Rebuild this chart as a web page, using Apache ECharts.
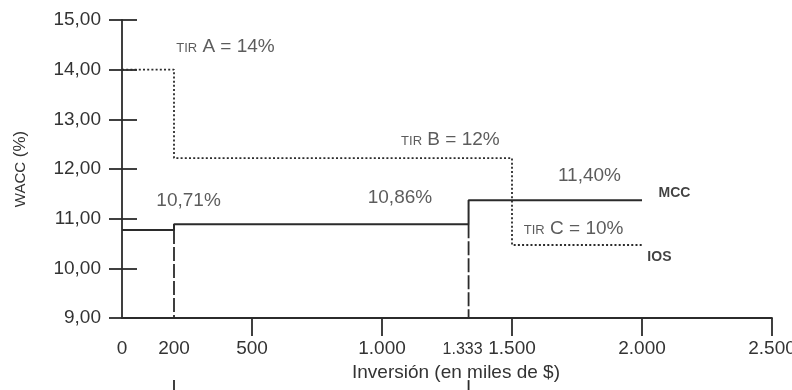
<!DOCTYPE html>
<html>
<head>
<meta charset="utf-8">
<script src="https://cdn.jsdelivr.net/npm/echarts@6/dist/echarts.min.js"></script>
<style>html,body{margin:0;padding:0;background:#fff}#c{width:792px;height:390px}</style>
</head>
<body>
<div id="c"></div>
<script>
// ---- data ----
const xLabelValues = [0, 200, 500, 1000, 1333, 1500, 2000, 2500];
const xTickValues = [500, 1000, 1500, 2000, 2500];
const mccX = [0, 200, 200, 1333, 1333, 2000];
const mccY = [10.77, 10.77, 10.89, 10.89, 11.37, 11.37];
const iosX = [0, 200, 200, 1500, 1500, 2000];
const iosY = [14, 14, 12.22, 12.22, 10.47, 10.47];
const dropX = [200, 1333];
const dropTop = [10.77, 10.89];
const stubY = [7.75, 7.45];
const annoText = ['TIR A = 14%', 'TIR B = 12%', 'TIR C = 10%', '10,71%', '10,86%', '11,40%', 'MCC', 'IOS'];
const annoX = [398, 1263, 1737, 256, 1069, 1798, 2125, 2067];
const annoY = [14.46, 12.58, 10.80, 11.36, 11.42, 11.86, 11.52, 10.22];

// ---- chart ----
const FONT = 'Liberation Sans';
const TXT = '#333';
const LINE = '#2b2b2b';
const chart = echarts.init(document.getElementById('c'), null, {renderer: 'canvas'});

const pair = (xs, ys) => xs.map((x, i) => [x, ys[i]]);
const fmtX = v => {
  const s = String(v).replace(/\B(?=(\d{3})+(?!\d))/g, '.');
  return v === 1333 ? '{s|' + s + '}' : s;
};
const annoFmt = t => {
  if (t.startsWith('TIR')) return '{s|TIR}' + t.slice(3);
  if (t === 'MCC' || t === 'IOS') return '{m|' + t + '}';
  return t;
};

const series = [
  {
    type: 'line', name: 'IOS', data: pair(iosX, iosY), symbol: 'none', z: 3,
    lineStyle: {color: LINE, width: 1.8, type: [2, 2.2]}
  },
  {
    type: 'line', name: 'MCC', data: pair(mccX, mccY), symbol: 'none', z: 4,
    lineStyle: {color: LINE, width: 2}
  }
];
dropX.forEach((x, i) => {
  series.push({
    type: 'line', data: [[x, dropTop[i]], [x, 9]], symbol: 'none', z: 2,
    lineStyle: {color: LINE, width: 1.8, type: [14, 3]}
  });
  series.push({
    type: 'line', data: [[x, stubY[0]], [x, stubY[1]]], symbol: 'none', clip: false, z: 2,
    lineStyle: {color: LINE, width: 1.8}
  });
});
series.push({
  type: 'scatter', symbolSize: 0, z: 5, silent: true,
  data: annoText.map((t, i) => ({value: [annoX[i], annoY[i]], name: t})),
  label: {
    show: true, position: 'inside', align: 'center', verticalAlign: 'middle',
    formatter: p => annoFmt(p.name),
    color: TXT, fontFamily: FONT, fontSize: 19,
    rich: {
      s: {fontSize: 13, color: TXT, fontFamily: FONT, padding: [3, 0, 0, 0]},
      m: {fontSize: 14, color: '#111', fontFamily: FONT, fontWeight: 'bold'}
    }
  }
});

chart.setOption({
  animation: false,
  backgroundColor: '#fff',
  grid: {left: 122, right: 20, top: 20, bottom: 72, containLabel: false, outerBoundsMode: 'none'},
  xAxis: {
    type: 'value', min: 0, max: 2500, interval: 500,
    splitLine: {show: false},
    axisLine: {onZero: false, lineStyle: {color: LINE, width: 1.8}},
    axisTick: {show: true, length: 18, customValues: xTickValues, lineStyle: {color: LINE, width: 1.8}},
    axisLabel: {
      customValues: xLabelValues, margin: 21, formatter: fmtX,
      color: TXT, fontFamily: FONT, fontSize: 19,
      rich: {s: {fontSize: 16, color: TXT, fontFamily: FONT, padding: [3, 12, 0, 0]}}
    },
    name: 'Inversión (en miles de $)', nameLocation: 'middle', nameGap: 44,
    nameTextStyle: {color: TXT, fontFamily: FONT, fontSize: 19, padding: [0, 0, 0, 18]}
  },
  yAxis: [
    {
      type: 'value', min: 9, max: 15, interval: 1,
      splitLine: {show: false},
      axisLine: {lineStyle: {color: LINE, width: 1.8}},
      axisTick: {length: 13, lineStyle: {color: LINE, width: 1.8}},
      axisLabel: {
        margin: 21, color: TXT, fontFamily: FONT, fontSize: 19,
        formatter: v => v.toFixed(2).replace('.', ',')
      },
      name: '{s|WACC} (%)', nameLocation: 'middle', nameGap: 93, nameRotate: 90,
      nameTextStyle: {color: TXT, fontFamily: FONT, fontSize: 17,
        rich: {s: {fontSize: 15, color: TXT, fontFamily: FONT}}}
    },
    {
      type: 'value', min: 9, max: 15, interval: 1, position: 'left', offset: 0,
      splitLine: {show: false}, axisLine: {show: false},
      axisTick: {show: true, inside: true, length: 15, lineStyle: {color: LINE, width: 1.8}},
      axisLabel: {show: false}
    }
  ],
  series: series
});
</script>
</body>
</html>
